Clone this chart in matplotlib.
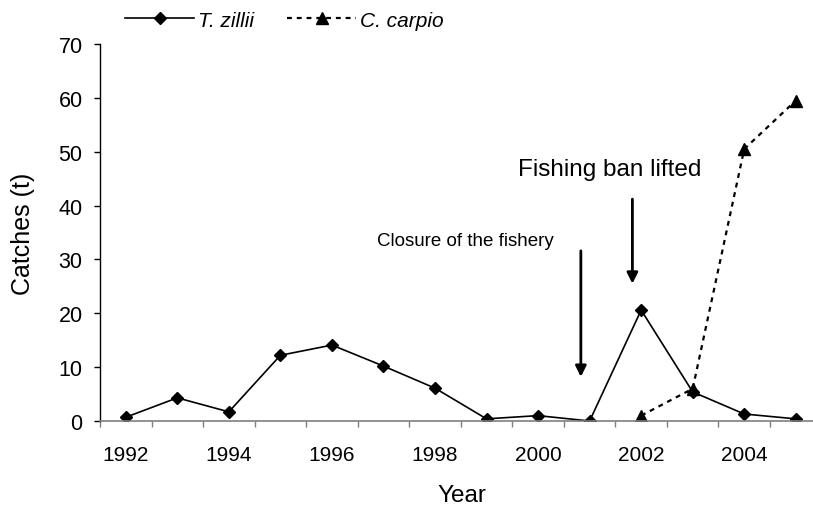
import numpy as np
import matplotlib.pyplot as plt

plt.rcParams['font.family'] = ['Liberation Sans', 'DejaVu Sans']

# catches per year (t)
years = np.arange(1992, 2006)
t_zillii = [0.7, 4.3, 1.7, 12.2, 14.1, 10.2, 6.1, 0.4, 1.0, 0.0, 20.6, 5.4, 1.3, 0.4]
carpio_years = [2002, 2003, 2004, 2005]
c_carpio = [1.0, 6.0, 50.5, 59.5]

fig = plt.figure(figsize=(8.13, 5.06), dpi=100)
ax = fig.add_axes([0.123, 0.166, 0.8875, 0.745])

l1, = ax.plot(years, t_zillii, color='k', lw=1.2, marker='D', ms=6,
              label='T. zillii')
l2, = ax.plot(carpio_years, c_carpio, color='k', lw=1.6, ls=(0, (2.2, 2.2)),
              marker='^', ms=8.5, label='C. carpio')

ax.set_xlim(1991.5, 2005.5)
ax.set_ylim(0, 70)
ax.set_yticks(np.arange(0, 71, 10))

# ticks between categories, labels every second year
ax.set_xticks(np.arange(1991.5, 2006, 1))
ax.set_xticklabels([])
ax.set_xticks(np.arange(1992, 2006, 2), minor=True)
ax.set_xticklabels([str(y) for y in range(1992, 2006, 2)], minor=True)
ax.tick_params(axis='x', which='major', length=4.5, width=1, color='#7f7f7f',
               direction='out')
ax.tick_params(axis='x', which='minor', length=0, pad=17.5, labelsize=15)
ax.tick_params(axis='y', length=4.5, width=1, direction='out', labelsize=15.5,
               pad=8)

for s in ['top', 'right']:
    ax.spines[s].set_visible(False)
ax.spines['bottom'].set_color('#7f7f7f')
ax.spines['bottom'].set_linewidth(1.2)
ax.spines['left'].set_linewidth(1.0)

ax.set_ylabel('Catches (t)', fontsize=18)
ax.yaxis.set_label_coords(-0.090, 0.5)
ax.set_xlabel('Year', fontsize=17.5)
ax.xaxis.set_label_coords(0.502, -0.168)

# events
ax.annotate('', xy=(2000.83, 8.2), xytext=(2000.83, 31.6),
            arrowprops=dict(arrowstyle='-|>', lw=2, color='k',
                            mutation_scale=16, shrinkA=0, shrinkB=0))
ax.text(1998.58, 33.6, 'Closure of the fishery', fontsize=13.5,
        ha='center', va='center')
ax.annotate('', xy=(2001.83, 25.5), xytext=(2001.83, 41.2),
            arrowprops=dict(arrowstyle='-|>', lw=2, color='k',
                            mutation_scale=16, shrinkA=0, shrinkB=0))
ax.text(2001.38, 46.8, 'Fishing ban lifted', fontsize=17.5,
        ha='center', va='center')

fig.legend(handles=[l1, l2], loc='center left', bbox_to_anchor=(0.154, 0.958),
           ncol=2, frameon=False, borderpad=0, borderaxespad=0,
           handlelength=3.3, handletextpad=0.2, columnspacing=1.6,
           prop={'style': 'italic', 'size': 15})

fig.savefig('out.png', dpi=100)
